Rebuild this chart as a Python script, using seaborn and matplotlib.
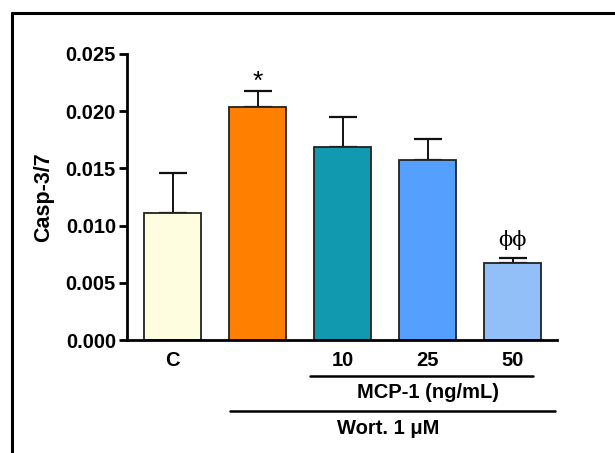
#!/usr/bin/env python3
#
# Casp-3/7 activity, wortmannin + MCP-1 dose series
#
import numpy as np
import pandas
import matplotlib
matplotlib.use('Agg')
import matplotlib.pyplot as plt
import matplotlib.lines as mlines
import seaborn

# Data
groups = ['C', 'Wort', 'MCP10', 'MCP25', 'MCP50']
tick_labels = ['C', '', '10', '25', '50']
means = [0.0111, 0.0204, 0.0169, 0.0157, 0.0067]
errors = [0.0035, 0.0014, 0.0026, 0.0019, 0.0005]
marks = ['', '*', '', '', '\u03d5\u03d5']
colors = ['#FFFDE0', '#FF8000', '#1199AF', '#55A0FF', '#93BFF9']

seaborn.set_style('ticks')
plt.rcParams['font.family'] = ['Liberation Sans', 'DejaVu Sans']
plt.rcParams['font.weight'] = 'bold'
plt.rcParams['text.color'] = 'black'
plt.rcParams['axes.labelcolor'] = 'black'
plt.rcParams['axes.edgecolor'] = 'black'
plt.rcParams['xtick.color'] = 'black'
plt.rcParams['ytick.color'] = 'black'

fig = plt.figure(figsize=(6.15, 4.53), dpi=100)
ax = fig.add_axes([0.2065, 0.2494, 0.6992, 0.6314])

df = pandas.DataFrame({'group': groups, 'value': means})
seaborn.barplot(data=df, x='group', y='value', hue='group', order=groups,
                palette=dict(zip(groups, colors)), width=0.67,
                saturation=1, edgecolor='#222222', linewidth=1.3,
                errorbar=None, legend=False, ax=ax, zorder=2)

# Upper error bars only (lower cap hidden behind the bar)
x = np.arange(len(groups))
ax.errorbar(x, means, yerr=[np.zeros(len(errors)), errors], fmt='none',
            ecolor='#111111', elinewidth=1.4, capsize=10.4, capthick=1.6,
            zorder=1)

# Significance marks
for xi, m, e, s in zip(x, means, errors, marks):
    if s == '*':
        ax.text(xi, m + e + 0.0008, s, ha='center', va='center',
                fontsize=19, fontweight='normal')
    elif s:
        ax.text(xi, m + e + 0.0015, s, ha='center', va='center',
                fontsize=15, fontweight='normal', family='DejaVu Serif')

ax.set_xlim(-0.535, 4.52)
ax.set_ylim(0, 0.025)
ax.set_yticks([0.0, 0.005, 0.010, 0.015, 0.020, 0.025])
ax.set_yticklabels(['0.000', '0.005', '0.010', '0.015', '0.020', '0.025'])
ax.set_xticks(x)
ax.set_xticklabels(tick_labels)
ax.tick_params(axis='x', length=0, pad=8, labelsize=14.5)
ax.tick_params(axis='y', length=6, width=2, labelsize=14.5, pad=2)
ax.set_xlabel('')
ax.set_ylabel('Casp-3/7', fontsize=15.5, fontweight='bold', labelpad=8)
for side in ['left', 'bottom']:
    ax.spines[side].set_linewidth(2)
seaborn.despine(ax=ax)

# Group brackets under the axis
trans = matplotlib.transforms.blended_transform_factory(ax.transData,
                                                        ax.transAxes)
ax.plot([1.62, 4.24], [-0.126, -0.126], color='black', lw=1.8,
        transform=trans, clip_on=False)
ax.text(3.0, -0.182, 'MCP-1 (ng/mL)', ha='center', va='center',
        fontsize=14.5, transform=trans)
ax.plot([0.676, 4.50], [-0.248, -0.248], color='black', lw=1.8,
        transform=trans, clip_on=False)
ax.text(2.53, -0.308, 'Wort. 1 \u03bcM', ha='center', va='center',
        fontsize=14.5, transform=trans)

# Frame lines (top, left)
fig.add_artist(mlines.Line2D([0.0187, 1.0], [0.9702, 0.9702],
                             color='black', lw=2.2))
fig.add_artist(mlines.Line2D([0.0187, 0.0187], [0.0, 0.9702],
                             color='black', lw=2.2))

plt.savefig('out.png', dpi=100)
